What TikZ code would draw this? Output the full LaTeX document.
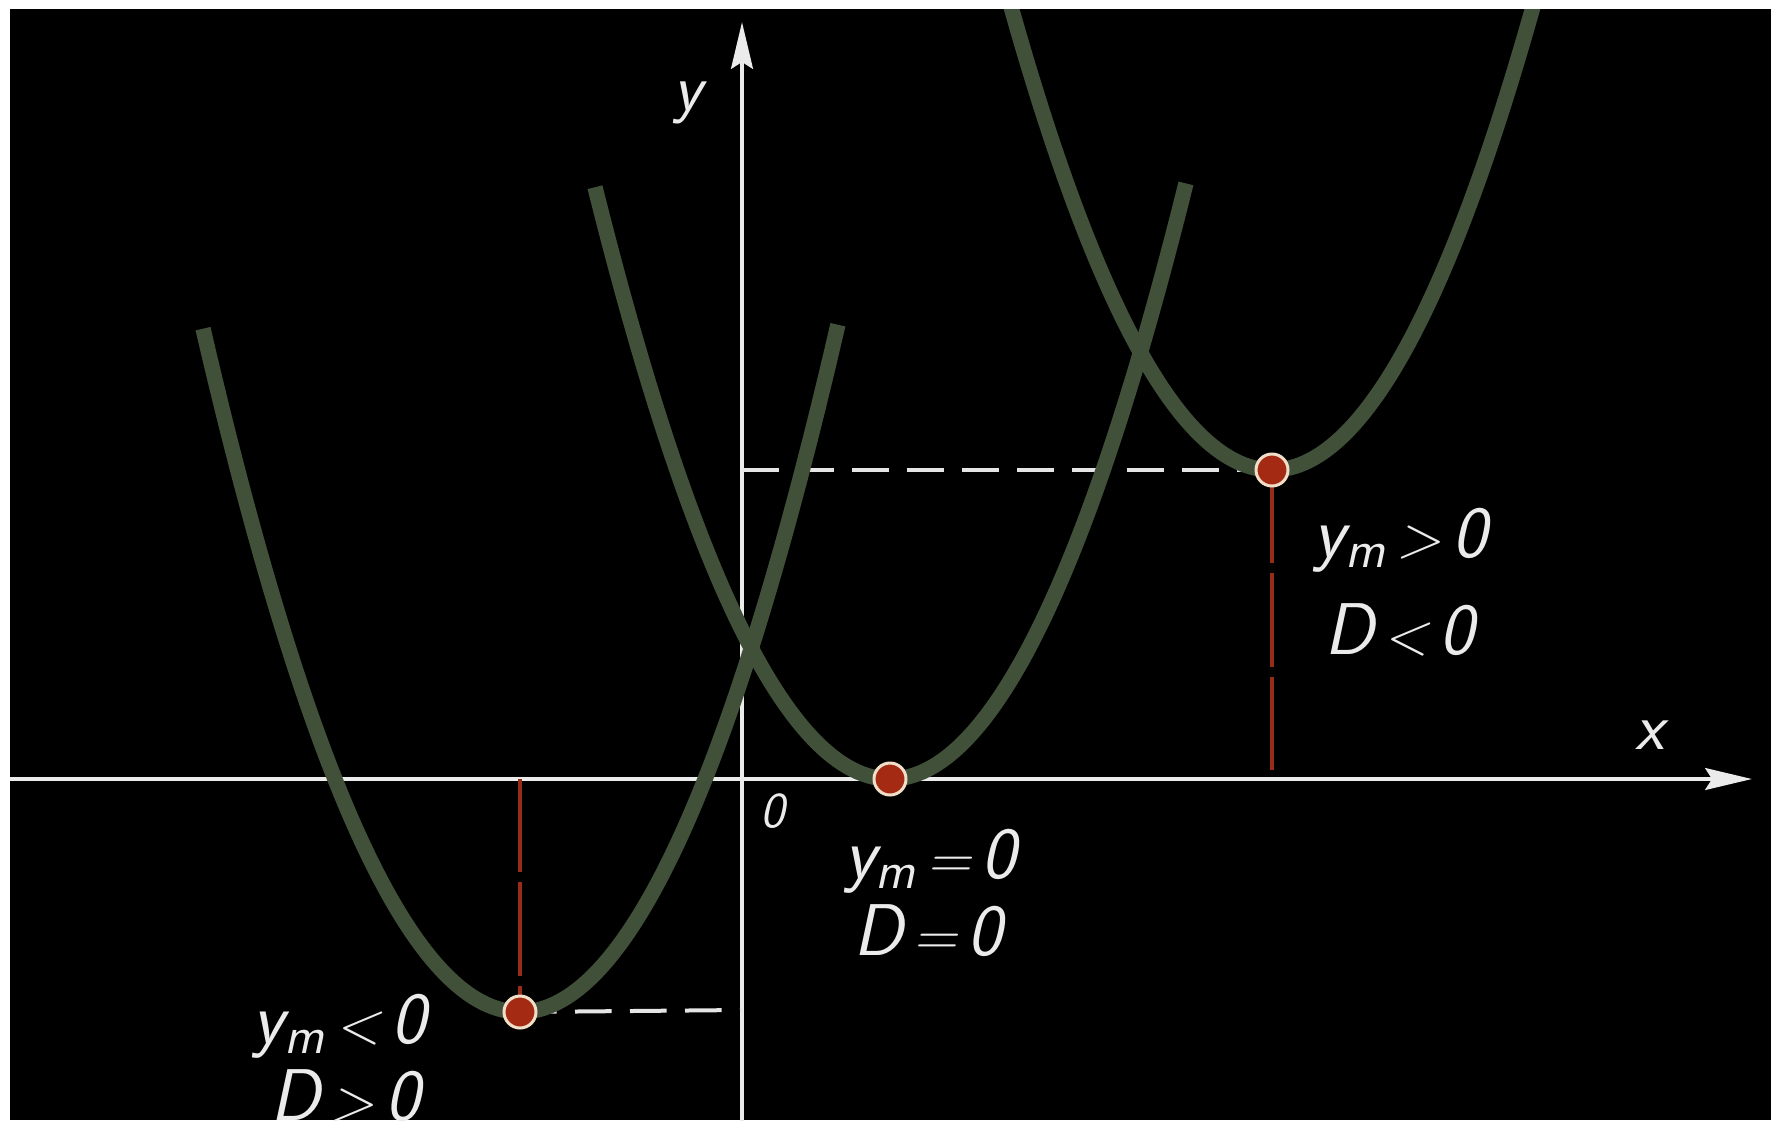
\documentclass[tikz,border=0pt]{standalone}
\usetikzlibrary{arrows.meta}
\definecolor{curvegreen}{RGB}{64,80,57}
\definecolor{dotred}{RGB}{165,42,20}
\definecolor{dotrim}{RGB}{240,222,200}
\definecolor{redash}{RGB}{150,45,25}
\newcommand{\rel}[1]{{\fontsize{18}{20}\selectfont\,#1\,}}
\tikzset{
  axisline/.style={line width=1.4pt, draw=white!92!black, -{Stealth[length=14pt,width=6.5pt,inset=2pt]}},
  parab/.style={line width=4.6pt, draw=curvegreen},
  whitedash/.style={line width=1.2pt, draw=white!90!black, dash pattern=on 11pt off 5.5pt},
  reddash/.style={line width=1pt, draw=redash, dash pattern=on 28pt off 3pt},
  vdot/.style={circle, fill=dotred, draw=dotrim, line width=0.9pt, minimum size=9.6pt, inner sep=0pt},
  lbl/.style={text=white!92!black, font=\sffamily\itshape\fontsize{22}{26}\selectfont, inner sep=0pt},
  axlbl/.style={text=white!92!black, font=\sffamily\itshape\fontsize{20}{24}\selectfont, inner sep=0pt},
}
\begin{document}
\begin{tikzpicture}[x=0.3pt,y=-0.3pt]
\useasboundingbox (0,0) rectangle (1771,1120);
\fill[white] (0,0) rectangle (1771,1120);
\fill[black] (10,9) rectangle (1771,1120);
\begin{scope}
\clip (10,9) rectangle (1771,1120);
% axes
\coordinate (xs) at (10,779);
\coordinate (xe) at (1752,779);
\coordinate (ys) at (742,1125);
\coordinate (ye) at (742,22);
\draw[axisline] (xs) -- (xe);
\draw[axisline] (ys) -- (ye);
% feet of dashed lines
\coordinate (yr) at (742,470);
\coordinate (xr) at (1272,779);
\coordinate (yl) at (742,1010);
\coordinate (xl) at (520,779);
\coordinate (vr) at (1272,470);
\coordinate (vm) at (890,779);
\coordinate (vl) at (520,1012);
\draw[whitedash] (yr) -- (vr);
\draw[reddash] (vr) -- (xr);
\draw[whitedash] (vl) -- (yl);
\draw[reddash] (xl) -- (vl);
% parabolas
\draw[parab] plot[domain=-3.17:3.18, samples=100, smooth] ({520+100*\x},{1012-68*\x*\x});
\draw[parab] plot[domain=-2.95:2.96, samples=100, smooth] ({890+100*\x},{779-68*\x*\x});
\draw[parab] plot[domain=-2.65:2.65, samples=100, smooth] ({1272+100*\x},{470-68*\x*\x});
% vertices
\node[vdot] (dr) at (vr) {};
\node[vdot] (dm) at (vm) {};
\node[vdot] (dl) at (vl) {};
% labels
\node[lbl] (r1) at (1400,540) {y\textsubscript{m}\rel{>}0};
\node[lbl] (r2) at (1399,630) {D\rel{<}0};
\node[lbl] (m1) at (930,861) {y\textsubscript{m}\rel{=}0};
\node[lbl] (m2) at (928,931) {D\rel{=}0};
\node[lbl] (l1) at (339,1026) {y\textsubscript{m}\rel{<}0};
\node[lbl] (l2) at (345,1096) {D\rel{>}0};
\node[axlbl] (xlab) at (1650,735) {x};
\node[axlbl] (ylab) at (688,103) {y};
\node[axlbl, font=\sffamily\itshape\fontsize{15}{18}\selectfont] (olab) at (773,811) {0};
\end{scope}
\end{tikzpicture}
\end{document}
